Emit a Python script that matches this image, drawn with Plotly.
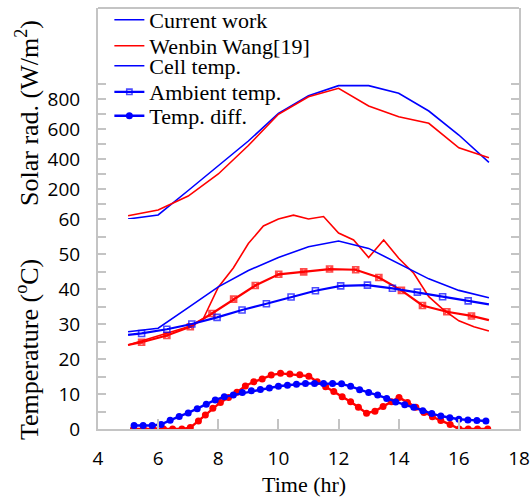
import plotly.graph_objects as go

# ---------------- data ----------------
hours = [5, 6, 7, 8, 9, 10, 11, 12, 13, 14, 15, 16, 17]
solar_current = [0, 27, 190, 355, 520, 704, 822, 889, 889, 838, 720, 560, 378]
solar_wang = [22, 60, 153, 300, 490, 698, 815, 871, 753, 682, 638, 475, 409]

cell_current = [27.8, 28.8, 34.7, 40.6, 45.3, 49.0, 52.1, 53.7, 51.6, 47.3, 42.9, 39.6, 37.5]
cell_wang_x = [5, 6, 7, 7.5, 8, 8.5, 9, 9.5, 10, 10.5, 11, 11.5, 12, 12.5, 13, 13.5, 14,
               14.5, 15, 15.5, 16, 16.5, 17]
cell_wang = [24, 26.5, 29.2, 31.5, 40.5, 46, 53, 58, 60, 61.1, 60, 60.7, 56, 54, 49, 54, 48.8,
             44.5, 37.8, 34, 30.9, 29.2, 28]

amb_current_x = [5.0, 5.45, 6.29, 7.12, 7.96, 8.79, 9.6, 10.42, 11.23, 12.07, 12.96, 13.79,
                 14.62, 15.46, 16.31, 17.0]
amb_current = [26.9, 27.3, 28.5, 30.0, 31.9, 34.0, 35.8, 37.7, 39.5, 40.9, 41.1, 40.2,
               39.1, 37.8, 36.6, 35.6]
amb_wang_x = [5.0, 5.45, 6.29, 7.07, 7.79, 8.51, 9.23, 10.01, 10.84, 11.7, 12.57, 13.34,
              14.09, 14.79, 15.6, 16.42, 17.0]
amb_wang = [24, 24.8, 26.7, 29.2, 33, 37.1, 41, 44.2, 44.9, 45.7, 45.5, 43.3,
            39.6, 35.3, 33.5, 32.3, 31.1]

diff_current_x = [5.2, 5.5, 5.8, 6.1, 6.4, 6.7, 7.0, 7.3, 7.6, 7.9, 8.2, 8.5, 8.8, 9.1, 9.4,
                  9.7, 10.0, 10.3, 10.6, 10.9, 11.2, 11.5, 11.8, 12.1, 12.4, 12.7, 13.0, 13.3,
                  13.6, 13.9, 14.2, 14.5, 14.8, 15.1, 15.4, 15.7, 16.0, 16.3, 16.6, 16.9]
diff_current = [1.0, 1.0, 1.0, 1.3, 2.5, 3.6, 4.6, 5.8, 7.1, 8.3, 9.2, 9.7, 10.4, 10.9, 11.3,
                11.7, 12.2, 12.5, 12.8, 13.0, 13.0, 13.0, 13.0, 12.9, 12.2, 11.2, 10.4, 9.7,
                8.7, 7.7, 6.9, 6.2, 5.2, 4.4, 3.7, 3.2, 2.8, 2.6, 2.4, 2.3]
diff_wang_x = [5.18, 5.51, 5.84, 6.18, 6.48, 6.79, 7.07, 7.34, 7.57, 7.82, 8.07, 8.34, 8.62,
               8.9, 9.18, 9.46, 9.76, 10.07, 10.38, 10.71, 11.01, 11.29, 11.57, 11.84, 12.12,
               12.4, 12.66, 12.93, 13.21, 13.48, 13.76, 14.01, 14.29, 14.57, 14.84, 15.12,
               15.4, 15.71, 16.01, 16.31, 16.62, 16.96]
diff_wang = [0, 0, 0, 0, 0, 0, 0.4, 2.3, 4.0, 5.9, 7.6, 9.0, 10.5, 12.3, 13.5, 14.3, 15.4,
             15.9, 15.7, 15.5, 15.1, 13.5, 12.1, 10.7, 9.2, 7.8, 6.2, 4.5, 5.1, 6.4, 7.8, 9.0,
             7.6, 6.2, 4.7, 3.5, 2.4, 1.3, 0, 0, 0, 0]

x_ticks = [4, 6, 8, 10, 12, 14, 16, 18]
temp_ticks = [0, 10, 20, 30, 40, 50, 60]
temp_minor = [5, 15, 25, 35, 45, 55]
solar_ticks = [200, 400, 600, 800]
solar_minor = [100, 300, 500, 700, 900]

# ---------------- styling ----------------
BLUE = "#0000ff"
RED = "#ff0000"
FRAME = "#c4c4c4"
SERIF = "Liberation Serif, Times New Roman, serif"
SANS = "Open Sans, sans-serif"

W, H = 532, 499
ML, MR, MT, MB = 98, 13, 8, 70
plot_h = H - MT - MB
PX_PER_DEG = 3.5
temp_top = 64                                  # small headroom so peaks above 60 show
split = 60 * PX_PER_DEG / plot_h               # where solar 0 sits (= temperature 60)
temp_dom_top = temp_top * PX_PER_DEG / plot_h
solar_top = (plot_h - 60 * PX_PER_DEG) / 30 * 200


def end_sizes(n, s):
    return [0] + [s] * (n - 2) + [0]


def py(px):
    return (H - MB - px) / plot_h


fig = go.Figure()

# Solar radiation
fig.add_trace(go.Scatter(x=hours, y=solar_current, mode="lines", yaxis="y2",
                         line=dict(color=BLUE, width=1.6), name="Current work",
                         legend="legend"))
fig.add_trace(go.Scatter(x=hours, y=solar_wang, mode="lines", yaxis="y2",
                         line=dict(color=RED, width=1.6), name="Wenbin Wang[19]",
                         legend="legend2"))

# Cell temperature
fig.add_trace(go.Scatter(x=cell_wang_x, y=cell_wang, mode="lines",
                         line=dict(color=RED, width=1.6), showlegend=False))
fig.add_trace(go.Scatter(x=hours, y=cell_current, mode="lines",
                         line=dict(color=BLUE, width=1.6), name="Cell temp.",
                         legend="legend3"))

# Ambient temperature
fig.add_trace(go.Scatter(x=amb_wang_x, y=amb_wang, mode="lines+markers",
                         line=dict(color=RED, width=2.2),
                         marker=dict(symbol="square-x-open", size=end_sizes(len(amb_wang_x), 6),
                                     color=RED, line=dict(width=1.6)),
                         showlegend=False))
fig.add_trace(go.Scatter(x=amb_current_x, y=amb_current, mode="lines+markers",
                         line=dict(color=BLUE, width=2.2),
                         marker=dict(symbol="square-open", size=end_sizes(len(amb_current_x), 6),
                                     color=BLUE, line=dict(width=1.6)),
                         name="Ambient temp.", legend="legend4"))

# Temperature difference
fig.add_trace(go.Scatter(x=diff_wang_x, y=diff_wang, mode="lines+markers",
                         line=dict(color=RED, width=2.4),
                         marker=dict(symbol="circle", size=7, color=RED),
                         showlegend=False))
fig.add_trace(go.Scatter(x=diff_current_x, y=diff_current, mode="lines+markers",
                         line=dict(color=BLUE, width=2.4),
                         marker=dict(symbol="circle", size=7, color=BLUE),
                         name="Temp. diff.", legend="legend5"))

axis_common = dict(ticks="inside", tickwidth=1.5, tickcolor=FRAME,
                   showline=True, linecolor=FRAME, linewidth=2, showgrid=False,
                   zeroline=False, tickfont=dict(family=SANS, size=19, color="black"))
minor_common = dict(ticks="inside", ticklen=8, tickcolor=FRAME, tickwidth=1.5)

# row centres of the legend entries, in pixels from the top of the figure
legend_rows = [20, 46, 66, 92, 116]
legends = {}
for i, row in enumerate(legend_rows):
    key = "legend" if i == 0 else f"legend{i + 1}"
    legends[key] = dict(x=0.027, y=(H - row) / H, yref="container",
                        xanchor="left", yanchor="middle",
                        bgcolor="rgba(0,0,0,0)", borderwidth=0, valign="middle",
                        font=dict(family=SERIF, size=22, color="black"), itemwidth=30)

fig.update_layout(
    width=W, height=H,
    margin=dict(l=ML, r=MR, t=MT, b=MB, autoexpand=False),
    paper_bgcolor="white", plot_bgcolor="rgba(0,0,0,0)",
    xaxis=dict(range=[4, 18], tickvals=x_ticks, mirror=False, ticklen=10,
               ticklabelstandoff=11, **axis_common),
    yaxis=dict(range=[0, temp_top], domain=[0, temp_dom_top], tickvals=temp_ticks,
               mirror="ticks", ticklabelstandoff=12, ticklen=8,
               minor=dict(tickvals=temp_minor, **minor_common), **axis_common),
    yaxis2=dict(range=[0, solar_top], domain=[split, 1], tickvals=solar_ticks,
                mirror="ticks", ticklabelstandoff=12, ticklen=8,
                minor=dict(tickvals=solar_minor, **minor_common), **axis_common),
    shapes=[dict(type="line", xref="paper", yref="paper", x0=0, x1=1, y0=1, y1=1,
                 line=dict(color=FRAME, width=2))],
    annotations=[
        dict(text="Solar rad. (W/m<sup>2</sup>)", xref="paper", yref="paper",
             x=0, xshift=-71, y=py(113), textangle=-90, showarrow=False,
             xanchor="center", yanchor="middle",
             font=dict(family=SERIF, size=26, color="black")),
        dict(text="Temperature (<sup>o</sup>C)", xref="paper", yref="paper",
             x=0, xshift=-71, y=py(350), textangle=-90, showarrow=False,
             xanchor="center", yanchor="middle",
             font=dict(family=SERIF, size=26, color="black")),
        dict(text="Time (hr)", xref="paper", yref="paper",
             x=(304 - ML) / (W - ML - MR), y=py(484), showarrow=False,
             xanchor="center", yanchor="middle",
             font=dict(family=SERIF, size=22, color="black")),
    ],
    **legends,
)

fig.write_html("out.html")
